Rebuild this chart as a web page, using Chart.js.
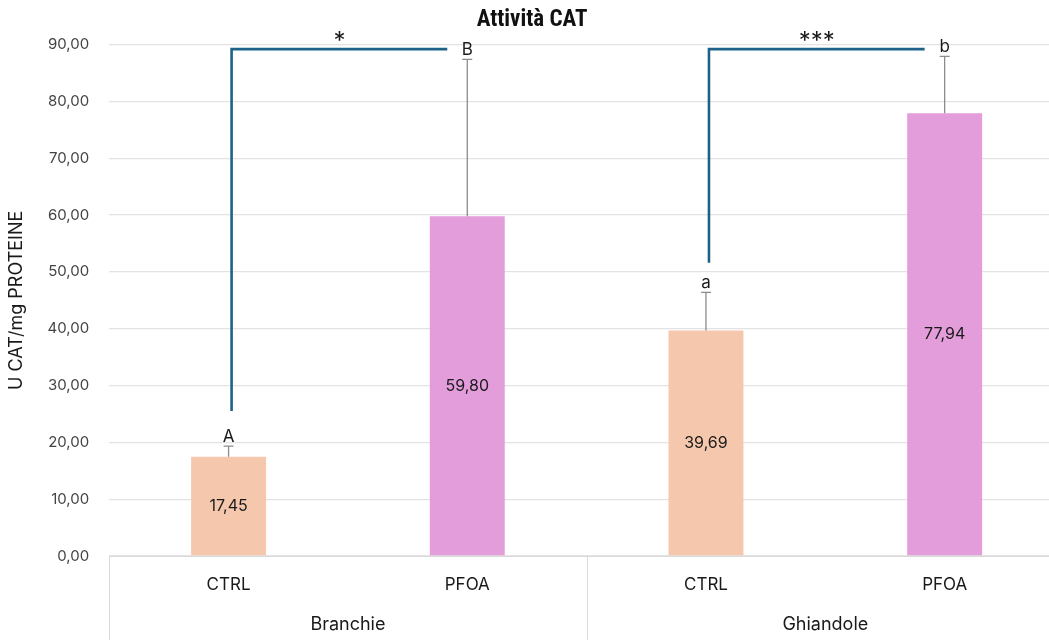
<!DOCTYPE html>
<html lang="it">
<head>
  <meta charset="UTF-8" />
  <title>Attività CAT</title>
  <script src="https://cdn.jsdelivr.net/npm/chart.js"></script>
  <style>
    html, body { margin: 0; padding: 0; overflow: hidden; background: #fff; }
    #box { width: 1064px; height: 640px; position: relative; }
  </style>
</head>
<body>
  <div id="box"><canvas id="catChart"></canvas></div>

  <script>
    // dati
    const categorie = ['CTRL', 'PFOA', 'CTRL', 'PFOA'];
    const tessuti = ['Branchie', 'Ghiandole'];
    const valori = [17.45, 59.80, 39.69, 77.94];
    const erroriSup = [1.9, 27.6, 6.7, 10.0];
    const lettere = ['A', 'B', 'a', 'b'];
    const coloriBarre = ['#f5c7ad', '#e39ddb', '#f5c7ad', '#e39ddb'];
    const yTicks = [0, 10, 20, 30, 40, 50, 60, 70, 80, 90];

    // confronti statistici: da barra, a barra, partenza, altezza, stelle
    const confronti = [
      { da: 0, a: 1, partenza: 25.5, altezza: 89.2, stelle: '*' },
      { da: 2, a: 3, partenza: 51.6, altezza: 89.2, stelle: '***' }
    ];

    const FONT = 'Inter, "Noto Sans", sans-serif';
    const fmt = v => v.toFixed(2).replace('.', ',');

    const annotazioni = {
      id: 'annotazioni',
      afterDatasetsDraw(chart) {
        const ctx = chart.ctx;
        const y = chart.scales.y;
        const x = chart.scales.x;
        const meta = chart.getDatasetMeta(0);
        const area = chart.chartArea;
        ctx.save();

        // barre di errore, lettere e valori
        meta.data.forEach((bar, i) => {
          const top = y.getPixelForValue(valori[i] + erroriSup[i]);
          const base = y.getPixelForValue(valori[i]);
          ctx.strokeStyle = '#8c8c8c';
          ctx.lineWidth = 1.3;
          ctx.beginPath();
          ctx.moveTo(bar.x, base);
          ctx.lineTo(bar.x, top);
          ctx.moveTo(bar.x - 5, top);
          ctx.lineTo(bar.x + 5, top);
          ctx.stroke();

          ctx.fillStyle = '#1a1a1a';
          ctx.font = '17px ' + FONT;
          ctx.textAlign = 'center';
          ctx.textBaseline = 'bottom';
          ctx.fillText(lettere[i], bar.x, top - 1);

          ctx.font = '16px ' + FONT;
          ctx.textBaseline = 'middle';
          ctx.fillText(fmt(valori[i]), bar.x, (base + y.getPixelForValue(0)) / 2);
        });

        // parentesi di significatività
        confronti.forEach(c => {
          const x0 = meta.data[c.da].x + 3;
          const x1 = meta.data[c.a].x - 20;
          const yTop = y.getPixelForValue(c.altezza);
          ctx.strokeStyle = '#1d6389';
          ctx.lineWidth = 2.6;
          ctx.beginPath();
          ctx.moveTo(x0, y.getPixelForValue(c.partenza));
          ctx.lineTo(x0, yTop);
          ctx.lineTo(x1, yTop);
          ctx.stroke();

          ctx.fillStyle = '#1a1a1a';
          ctx.font = '24px ' + FONT;
          ctx.textAlign = 'center';
          ctx.textBaseline = 'bottom';
          ctx.fillText(c.stelle, (x0 + x1) / 2, yTop + 5);
        });

        // separatori dell'asse x
        const meta2 = (x.getPixelForValue(1) + x.getPixelForValue(2)) / 2;
        ctx.strokeStyle = '#d9d9d9';
        ctx.lineWidth = 1;
        ctx.beginPath();
        [x.left, meta2, x.right].forEach(px => {
          ctx.moveTo(Math.round(px) + 0.5, area.bottom);
          ctx.lineTo(Math.round(px) + 0.5, chart.height);
        });
        ctx.stroke();
        ctx.restore();
      }
    };

    new Chart(document.getElementById('catChart'), {
      type: 'bar',
      data: {
        labels: categorie,
        datasets: [{
          data: valori,
          backgroundColor: coloriBarre,
          borderWidth: 0,
          categoryPercentage: 1,
          barPercentage: 0.314
        }]
      },
      options: {
        responsive: true,
        maintainAspectRatio: false,
        animation: false,
        layout: { padding: { left: 0, right: 0, top: 0, bottom: 5 } },
        plugins: {
          legend: { display: false },
          tooltip: { enabled: false },
          title: {
            display: true,
            text: 'Attività CAT',
            color: '#111',
            font: { family: '"Liberation Sans Narrow", "Roboto Condensed", Roboto, sans-serif', size: 23, weight: 'bold' },
            padding: { top: 6, bottom: 11 }
          }
        },
        scales: {
          x: {
            grid: { display: false },
            border: { display: true, color: '#d9d9d9' },
            ticks: { color: '#1a1a1a', font: { family: FONT, size: 17 }, padding: 10.5 }
          },
          x2: {
            type: 'category',
            labels: tessuti,
            position: 'bottom',
            offset: true,
            grid: { display: false },
            border: { display: false },
            ticks: { color: '#1a1a1a', font: { family: FONT, size: 18 }, padding: 0 }
          },
          y: {
            min: 0,
            max: 90,
            afterBuildTicks: axis => { axis.ticks = yTicks.map(v => ({ value: v })); },
            grid: { color: '#e3e3e3', lineWidth: 1.3, drawTicks: false },
            border: { display: false },
            ticks: { color: '#444', font: { family: FONT, size: 15 }, padding: 20, callback: v => fmt(v) },
            title: {
              display: true,
              text: 'U CAT/mg PROTEINE',
              color: '#1a1a1a',
              font: { family: FONT, size: 18 },
              padding: { top: 6, bottom: 0 }
            }
          }
        }
      },
      plugins: [annotazioni]
    });
  </script>
</body>
</html>
